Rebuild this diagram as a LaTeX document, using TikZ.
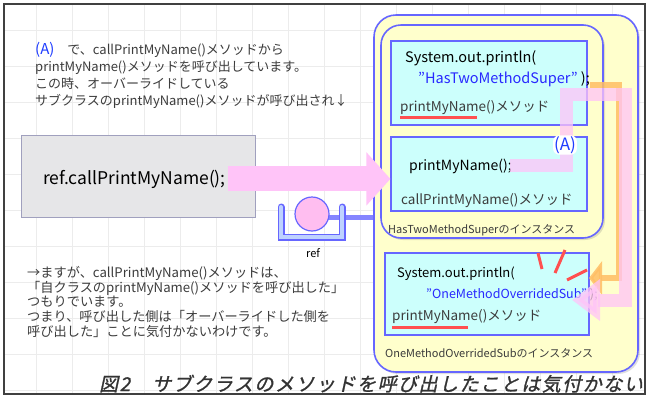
\documentclass[tikz,border=0pt]{standalone}
\usepackage{fontspec}
\setmainfont{Noto Sans CJK JP}
\newfontfamily\capfont[FakeSlant=0.22,FakeBold=1.2,LetterSpace=8]{Noto Sans CJK JP}
\usetikzlibrary{arrows.meta,positioning,shadows}
\definecolor{lineblue}{RGB}{102,102,255}
\definecolor{instyellow}{RGB}{255,255,204}
\definecolor{boxcyan}{RGB}{204,255,252}
\definecolor{codeblue}{RGB}{40,40,255}
\definecolor{ablue}{RGB}{30,60,255}
\definecolor{arrowpink}{RGB}{255,196,248}
\definecolor{refpink}{RGB}{255,190,240}
\definecolor{holderblue}{RGB}{190,210,255}
\definecolor{redline}{RGB}{255,80,80}
\definecolor{orangearrow}{RGB}{255,190,100}
\definecolor{graybox}{RGB}{230,230,232}
\definecolor{grayedge}{RGB}{160,160,190}
\definecolor{textgray}{RGB}{60,60,60}
\tikzset{
    %Define style for instances
    inst/.style={
           rectangle,
           rounded corners=20pt,
           draw=lineblue, line width=1.6pt,
           fill=instyellow,
           inner sep=0pt,
           drop shadow={opacity=0.25,shadow xshift=2pt,shadow yshift=-2pt}},
    %Define style for method boxes
    method/.style={
           rectangle,
           draw=lineblue, line width=1.2pt,
           fill=boxcyan,
           inner sep=0pt},
    callrect/.style={
           rectangle,
           draw=grayedge, line width=1pt,
           fill=graybox,
           inner sep=0pt},
    %Define style for texts
    code/.style={
           anchor=base west,
           inner sep=0pt,
           text=black},
    caption/.style={
           anchor=base west,
           inner sep=0pt,
           font=\fontsize{11}{11}\selectfont,
           text=textgray},
    note/.style={
           anchor=north west,
           inner sep=0pt,
           align=left,
           text=textgray},
    % Define arrow style
    bigpil/.style={
           -{Triangle[width=52pt,length=24pt]},
           line width=25pt,
           draw=arrowpink},
    apil/.style={
           -{Triangle[width=40pt,length=28pt]},
           line width=13pt,
           draw=arrowpink,
           opacity=0.75},
    opil/.style={
           -{Triangle[width=33pt,length=13pt]},
           line width=6pt,
           draw=orangearrow,
           opacity=0.85},
    refpil/.style={
           line width=5pt,
           draw=lineblue!80!white},
    burst/.style={
           line width=3pt,
           draw=redline},
    underline/.style={
           line width=3pt,
           draw=redline},
    gridline/.style={
           draw=gray!15, line width=0.8pt}
}

\begin{document}
\begin{tikzpicture}[x=1pt,y=-1pt]
\useasboundingbox (0,0) rectangle (650,400);
\fill[white] (0,0) rectangle (650,400);
%grid
\foreach \gx in {36,72,...,612}
  \draw[gridline] (\gx,5) -- (\gx,393);
\foreach \gy in {30,66,...,390}
  \draw[gridline] (5,\gy) -- (644,\gy);
\draw[black!75, line width=2pt] (4,4) rectangle (645,394);
 %instances
\node[inst, rounded corners=22pt, minimum width=264pt, minimum height=357pt] (subinst) at (506,193.5) {};
\node[inst, minimum width=222pt, minimum height=213pt] (superinst) at (492,131.5) {};
 %methods
\node[method, minimum width=196pt, minimum height=84pt] (superbox) at (489,83) {};
\node[method, minimum width=196pt, minimum height=74pt] (callbox) at (489,174) {};
\node[method, minimum width=204pt, minimum height=82pt] (subbox) at (487,294) {};
\node[callrect, minimum width=234pt, minimum height=82pt] (refbox) at (138,176) {};
 %code in super
\node[code, font=\fontsize{14.5}{14.5}\selectfont] (superprint) at (405,62) {System.out.println(};
\node[code, font=\fontsize{14.5}{14.5}\selectfont] (superstr) at (418,83)
  {\textcolor{codeblue}{"HasTwoMethodSuper"}~);};
\node[code, font=\fontsize{13.5}{13.5}\selectfont, text=textgray] (superpm) at (400,111) {printMyName()メソッド};
\draw[underline] (400,117) -- (477,117);
 %code in call
\node[code, font=\fontsize{14}{14}\selectfont] (callpm) at (409,170) {printMyName();};
\node[code, font=\fontsize{13.5}{13.5}\selectfont, text=textgray] (callname) at (401,204) {callPrintMyName()メソッド};
\node[caption] (superlabel) at (388,233) {HasTwoMethodSuperのインスタンス};
 %code in sub
\node[code, font=\fontsize{13}{13}\selectfont] (subprint) at (397,277) {System.out.println(};
\node[code, font=\fontsize{12.5}{12.5}\selectfont] (substr) at (426,298)
  {\textcolor{codeblue}{"OneMethodOverridedSub"}~);};
\node[code, font=\fontsize{13.5}{13.5}\selectfont, text=textgray] (subpm) at (392,320) {printMyName()メソッド};
\draw[underline] (392,327) -- (468,327);
\node[caption] (sublabel) at (385,357) {OneMethodOverridedSubのインスタンス};
 %burst
\draw[burst] (538,253) -- (542,269);
\draw[burst] (565,250) -- (555,273);
\draw[burst] (587,270) -- (567,280);
 %call of printMyName (A)
\coordinate (oa) at (590,85);
\coordinate (ob) at (619,85);
\coordinate (oc) at (619,278);
\coordinate (od) at (589,278);
\draw[opil] (oa) -- (ob) -- (oc) -- (od);
\coordinate (aturn) at (566,94);
\coordinate (aright) at (625,94);
\coordinate (adown) at (625,300);
\coordinate (atip) at (572,300);
\draw[apil] ([xshift=-2pt]callpm.east) -| (aturn) -- (aright) -- (adown) -- (atip);
\node[font=\fontsize{17}{17}\selectfont, text=ablue, fill=white, rounded corners=6pt, inner sep=1pt] (alabel) at (565,145) {(A)};
 %ref variable
\node[code, font=\fontsize{17.5}{17.5}\selectfont] (callcode) at (43,184) {ref.callPrintMyName();};
\draw[bigpil] ([xshift=2pt]callcode.east) -- (callcode.east -| callbox.west);
\draw[refpil] (312,217) -- (312,217 -| subinst.west);
\draw[lineblue, line width=7pt, line cap=round] (281,207) -- (281,237) -- (342,237) -- (342,207);
\draw[holderblue, line width=4pt, line cap=round] (281,207) -- (281,237) -- (342,237) -- (342,207);
\node[circle, minimum size=34pt, inner sep=0pt, fill=refpink, draw=lineblue, line width=1.2pt] (refval) at (312,214) {};
\node[inner sep=0pt, font=\fontsize{11}{11}\selectfont] (reflabel) at (313,253) {ref};
 %notes
\node[note, font=\fontsize{13}{17}\selectfont] (topnote) at (35,42)
  {\textcolor{ablue}{\fontsize{15}{17}\selectfont(A)}　で、callPrintMyName()メソッドから\\
   printMyName()メソッドを呼び出しています。\\
   この時、オーバーライドしている\\
   サブクラスのprintMyName()メソッドが呼び出され↓};
\node[note, font=\fontsize{13.2}{14.7}\selectfont] (bottomnote) at (27,266)
  {→ますが、callPrintMyName()メソッドは、\\
   「自クラスのprintMyName()メソッドを呼び出した」\\
   つもりでいます。\\
   つまり、呼び出した側は「オーバーライドした側を\\
   呼び出した」ことに気付かないわけです。};
\node[anchor=base east, inner sep=0pt, font=\capfont\fontsize{19}{19}\selectfont, text=black!80] (figcaption) at (643,391)
  {図2　サブクラスのメソッドを呼び出したことは気付かない};
\end{tikzpicture}
\end{document}
